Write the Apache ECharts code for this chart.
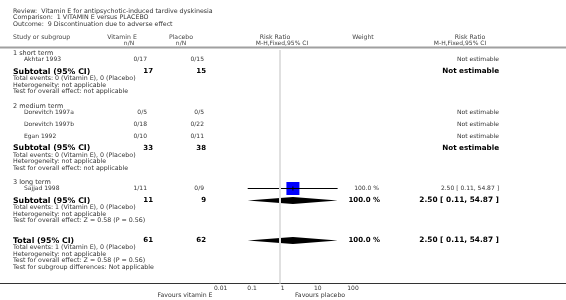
<!DOCTYPE html>
<html>
<head>
<meta charset="utf-8">
<script src="https://cdn.jsdelivr.net/npm/echarts@6/dist/echarts.min.js"></script>
<style>
html, body { margin: 0; padding: 0; background: #fff; }
#chart { width: 566px; height: 300px; }
</style>
</head>
<body>
<div id="chart"></div>
<script>
// forest plot data
var titleLines = ['Review:  Vitamin E for antipsychotic-induced tardive dyskinesia',
	'Comparison:  1 VITAMIN E versus PLACEBO',
	'Outcome:  9 Discontinuation due to adverse effect'];
var groupNames = ['1 short term', '2 medium term', '3 long term'];
var studyNames = ['Akhtar 1993', 'Dorevitch 1997a', 'Dorevitch 1997b', 'Egan 1992', 'Sajjad 1998'];
var studyGroup = [0, 1, 1, 1, 2];
var studyVitE = ['0/17', '0/5', '0/18', '0/10', '1/11'];
var studyPlacebo = ['0/15', '0/5', '0/22', '0/11', '0/9'];
var studyWeight = ['', '', '', '', '100.0 %'];
var studyRR = [null, null, null, null, [2.50, 0.11, 54.87]];
var subVitE = [17, 33, 11];
var subPlacebo = [15, 38, 9];
var subWeight = ['', '', '100.0 %'];
var subRR = [null, null, [2.50, 0.11, 54.87]];
var subNotes = [
	['Total events: 0 (Vitamin E), 0 (Placebo)', 'Heterogeneity: not applicable', 'Test for overall effect: not applicable'],
	['Total events: 0 (Vitamin E), 0 (Placebo)', 'Heterogeneity: not applicable', 'Test for overall effect: not applicable'],
	['Total events: 1 (Vitamin E), 0 (Placebo)', 'Heterogeneity: not applicable', 'Test for overall effect: Z = 0.58 (P = 0.56)']
];
var totalVitE = 61;
var totalPlacebo = 62;
var totalWeight = '100.0 %';
var totalRR = [2.50, 0.11, 54.87];
var totalNotes = ['Total events: 1 (Vitamin E), 0 (Placebo)', 'Heterogeneity: not applicable',
	'Test for overall effect: Z = 0.58 (P = 0.56)', 'Test for subgroup differences: Not applicable'];
var tickLabels = ['0.01', '0.1', '1', '10', '100'];

var FONT = 'DejaVu Sans';
var graphics = [];
var marks = [];

function txt(x, y, s, size, bold, align, color) {
	graphics.push({
		type : 'text',
		x : x,
		y : y,
		silent : true,
		style : {
			text : s,
			fontFamily : FONT,
			fontSize : size,
			fontWeight : bold ? 'bold' : 'normal',
			fill : color || (bold ? '#000' : '#333'),
			align : align || 'left',
			verticalAlign : 'middle'
		}
	});
}

function fmtRR(r) {
	return r[0].toFixed(2) + ' [ ' + r[1].toFixed(2) + ', ' + r[2].toFixed(2) + ' ]';
}

// header
txt(13, 11.5, titleLines[0], 6.3);
txt(13, 17.5, titleLines[1], 6.3);
txt(13, 24, titleLines[2], 6.3);
txt(13, 37, 'Study or subgroup', 6.2, false, 'left', '#444');
txt(122, 37, 'Vitamin E', 6.2, false, 'center', '#444');
txt(129, 43, 'n/N', 6, false, 'center', '#444');
txt(181, 37, 'Placebo', 6.2, false, 'center', '#444');
txt(181, 43, 'n/N', 6, false, 'center', '#444');
txt(275, 37, 'Risk Ratio', 6.2, false, 'center', '#444');
txt(282, 43, 'M-H,Fixed,95% CI', 6, false, 'center', '#444');
txt(363, 37, 'Weight', 6.2, false, 'center', '#444');
txt(470, 37, 'Risk Ratio', 6.2, false, 'center', '#444');
txt(460, 43, 'M-H,Fixed,95% CI', 6, false, 'center', '#444');

// rows
var y = 53.5;
for (var g = 0; g < groupNames.length; g++) {
	txt(13, y, groupNames[g], 6.5);
	y += 6;
	var first = true;
	for (var i = 0; i < studyNames.length; i++) {
		if (studyGroup[i] !== g) continue;
		if (!first) y += 12;
		first = false;
		txt(24, y, studyNames[i], 6);
		txt(147, y, studyVitE[i], 6, false, 'right');
		txt(204, y, studyPlacebo[i], 6, false, 'right');
		txt(379, y, studyWeight[i], 6, false, 'right');
		if (studyRR[i]) {
			txt(499, y, fmtRR(studyRR[i]), 6, false, 'right');
			marks.push([studyRR[i][0], studyRR[i][1], studyRR[i][2], y, 0]);
		} else {
			txt(499, y, 'Not estimable', 6, false, 'right');
		}
	}
	y += 12;
	txt(13, y, 'Subtotal (95% CI)', 7.8, true);
	txt(153, y, String(subVitE[g]), 7, true, 'right');
	txt(206, y, String(subPlacebo[g]), 7, true, 'right');
	txt(380, y, subWeight[g], 7, true, 'right');
	if (subRR[g]) {
		txt(499, y, fmtRR(subRR[g]), 7.4, true, 'right');
		marks.push([subRR[g][0], subRR[g][1], subRR[g][2], y, 1]);
	} else {
		txt(499, y, 'Not estimable', 7.2, true, 'right');
	}
	y += 7;
	for (var n = 0; n < subNotes[g].length; n++) {
		txt(13, y, subNotes[g][n], 6.3);
		if (n < subNotes[g].length - 1) y += 6.5;
	}
	y += 14.5;
}
y += 5.5;
txt(13, y, 'Total (95% CI)', 7.8, true);
txt(153, y, String(totalVitE), 7, true, 'right');
txt(206, y, String(totalPlacebo), 7, true, 'right');
txt(380, y, totalWeight, 7, true, 'right');
txt(499, y, fmtRR(totalRR), 7.4, true, 'right');
marks.push([totalRR[0], totalRR[1], totalRR[2], y, 1]);
y += 7;
for (var k = 0; k < totalNotes.length; k++) {
	txt(13, y, totalNotes[k], 6.3);
	y += 6.5;
}

txt(185, 295.5, 'Favours vitamin E', 6.2, false, 'center');
txt(320, 295.5, 'Favours placebo', 6.2, false, 'center');

// rules
graphics.push({ type : 'line', silent : true, shape : { x1 : 0, y1 : 47.5, x2 : 566, y2 : 47.5 },
	style : { stroke : '#a0a0a0', lineWidth : 2 } });
graphics.push({ type : 'line', silent : true, shape : { x1 : 0, y1 : 283.5, x2 : 566, y2 : 283.5 },
	style : { stroke : '#333', lineWidth : 1 } });

function renderMark(params, api) {
	var est = api.value(0), lo = api.value(1), hi = api.value(2), yy = api.value(3), kind = api.value(4);
	var pE = api.coord([est, yy]), pL = api.coord([lo, yy]), pH = api.coord([hi, yy]);
	if (kind === 0) {
		var s = 13;
		return {
			type : 'group',
			children : [
				{ type : 'rect', shape : { x : pE[0] - s / 2, y : pE[1] - s / 2, width : s, height : s },
					style : { fill : '#0000ff' } },
				{ type : 'line', shape : { x1 : pL[0], y1 : pE[1], x2 : pH[0], y2 : pE[1] },
					style : { stroke : '#000', lineWidth : 1 } },
				{ type : 'line', shape : { x1 : pE[0], y1 : pE[1] - 2, x2 : pE[0], y2 : pE[1] + 2 },
					style : { stroke : '#000', lineWidth : 1 } }
			]
		};
	}
	return {
		type : 'polygon',
		shape : { points : [ [ pL[0], pE[1] ], [ pE[0], pE[1] - 3.5 ], [ pH[0], pE[1] ], [ pE[0], pE[1] + 3.5 ] ] },
		style : { fill : '#000' }
	};
}

var chart = echarts.init(document.getElementById('chart'), null, { renderer : 'canvas' });
var option = {
	animation : false,
	backgroundColor : '#fff',
	grid : {
		left : 213,
		right : 219.7,
		top : 0,
		bottom : 16.5,
		containLabel : false,
		outerBoundsMode : 'none'
	},
	xAxis : {
		type : 'log',
		logBase : 10,
		min : 0.01,
		max : 100,
		axisLine : { show : false },
		axisTick : { show : true, inside : true, length : 3, lineStyle : { color : '#333' } },
		splitLine : { show : false },
		axisLabel : {
			fontFamily : FONT,
			fontSize : 6,
			color : '#333',
			align : 'left',
			margin : 2,
			padding : [ 0, 0, 0, 1 ],
			formatter : function(v) {
				return tickLabels[Math.round(Math.log(v) / Math.LN10) + 2];
			}
		}
	},
	yAxis : {
		type : 'value',
		min : 0,
		max : 283.5,
		inverse : true,
		show : false
	},
	series : [ {
		type : 'custom',
		renderItem : renderMark,
		data : marks,
		silent : true,
		z : 3,
		markLine : {
			silent : true,
			symbol : 'none',
			label : { show : false },
			lineStyle : { color : '#e0e0e0', width : 2, type : 'solid' },
			data : [ [ { coord : [ 1, 50 ] }, { coord : [ 1, 283.5 ] } ] ]
		}
	} ],
	graphic : graphics
};
chart.setOption(option, true);
</script>
</body>
</html>
